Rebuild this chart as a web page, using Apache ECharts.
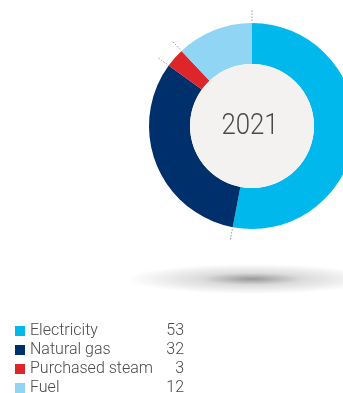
<!DOCTYPE html>
<html>
<head>
<meta charset="utf-8">
<script src="https://cdn.jsdelivr.net/npm/echarts@6/dist/echarts.min.js"></script>
<style>
  html, body { margin: 0; padding: 0; background: #fff; }
  #chart { width: 343px; height: 393px; }
</style>
</head>
<body>
<div id="chart"></div>
<script>
  const categories = ['Electricity', 'Natural gas', 'Purchased steam', 'Fuel'];
  const values = [53, 32, 3, 12];
  const colors = ['#00b8eb', '#00306b', '#de2529', '#90d5f4'];
  const yearLabel = '2021';

  const cx = 252, cy = 126, rIn = 62, rOut = 103;

  // dotted ticks just outside the ring, at every slice boundary
  const total = values.reduce((a, b) => a + b, 0);
  const ticks = [];
  let acc = 0;
  values.forEach(v => {
    const a = acc / total * Math.PI * 2;
    const sx = Math.sin(a), sy = -Math.cos(a);
    ticks.push({
      type: 'line',
      silent: true,
      shape: { x1: cx + sx * (rOut + 2), y1: cy + sy * (rOut + 2), x2: cx + sx * (rOut + 13), y2: cy + sy * (rOut + 13) },
      style: { stroke: '#9a9a9a', lineWidth: 1, lineDash: [1.5, 1.5] }
    });
    acc += v;
  });

  const font = 'Roboto, "Liberation Sans", sans-serif';

  const option = {
    animation: false,
    color: colors,
    legend: {
      orient: 'vertical',
      left: 15,
      top: 323,
      height: 90,
      padding: 0,
      icon: 'rect',
      itemWidth: 10,
      itemHeight: 10,
      itemGap: 3,
      selectedMode: false,
      data: categories,
      formatter: name => '{n|' + name + '}{v|' + values[categories.indexOf(name)] + '}',
      textStyle: {
        rich: {
          n: { fontFamily: font, fontWeight: 300, fontSize: 16, color: '#4a4a4a', width: 130, lineHeight: 16 },
          v: { fontFamily: font, fontWeight: 300, fontSize: 16, color: '#4a4a4a', width: 24, align: 'right', lineHeight: 16 }
        }
      }
    },
    graphic: [
      {
        type: 'circle',
        silent: true,
        z: 0,
        shape: { cx: 0, cy: 0, r: 125 },
        x: cx, y: 279,
        scaleY: 0.12,
        style: {
          fill: {
            type: 'radial', x: 0.5, y: 0.5, r: 0.5,
            colorStops: [
              { offset: 0, color: 'rgba(0,0,0,0.4)' },
              { offset: 0.4, color: 'rgba(0,0,0,0.14)' },
              { offset: 1, color: 'rgba(0,0,0,0)' }
            ]
          }
        }
      },
      {
        type: 'text',
        silent: true,
        z: 100,
        x: 250, y: 126,
        scaleX: 0.86,
        style: {
          text: yearLabel,
          x: 0, y: 0,
          align: 'center',
          verticalAlign: 'middle',
          fontFamily: font,
          fontWeight: 300,
          fontSize: 30,
          fill: '#4a4a4a'
        }
      }
    ].concat(ticks),
    series: [
      {
        type: 'pie',
        center: [cx, cy],
        radius: [rIn, rOut],
        startAngle: 90,
        clockwise: true,
        silent: true,
        label: { show: false },
        labelLine: { show: false },
        itemStyle: { borderWidth: 0 },
        data: categories.map((c, i) => ({ name: c, value: values[i] }))
      },
      {
        type: 'pie',
        center: [cx, cy],
        radius: [0, rIn],
        silent: true,
        label: { show: false },
        labelLine: { show: false },
        itemStyle: { color: '#f3f2f1' },
        data: [{ name: yearLabel, value: 1 }]
      }
    ]
  };

  const chart = echarts.init(document.getElementById('chart'));
  chart.setOption(option);
</script>
</body>
</html>
